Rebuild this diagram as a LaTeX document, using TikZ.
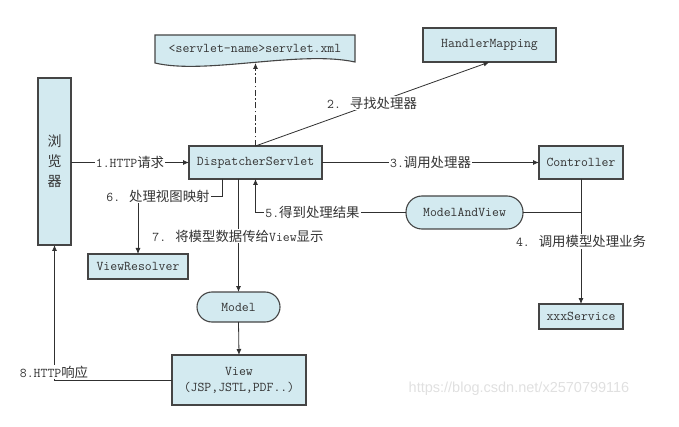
\documentclass[tikz,border=0pt]{standalone}
\usepackage{fontspec}
\newfontfamily\cjk{Noto Sans CJK SC}
\newfontfamily\wmfont{Liberation Sans}
\newcommand\zh[1]{{\cjk #1}}
\newcommand\gp{\hspace{9pt}}
\newcommand\tfont{\ttfamily\fontsize{13.4}{16}\selectfont}
\usetikzlibrary{arrows.meta}
\definecolor{boxfill}{HTML}{D3EAF0}
\definecolor{boxline}{HTML}{454545}
\definecolor{conn}{HTML}{303030}
\definecolor{txt}{HTML}{333333}
\begin{document}
\begin{tikzpicture}[x=1pt,y=-1pt,
  box/.style={draw=boxline, fill=boxfill, line width=1.1pt, inner sep=0pt, outer sep=0pt,
    font=\tfont, text=txt, align=center},
  stadium/.style={box, rounded corners=15pt},
  lbl/.style={fill=white, inner sep=1pt, font=\tfont, text=txt},
  ln/.style={draw=conn, line width=0.8pt},
  arr/.style={ln, -{Latex[length=6pt,width=5pt]}}]
\useasboundingbox (0,0) rectangle (679,427);

% boxes
\node[box, minimum width=33pt, minimum height=167pt, font=\fontsize{14}{20}\selectfont\cjk] (browser) at (54.5,161.5) {浏\\览\\器};
\fill[boxfill] (155,35) -- (355,35) -- (355,62) .. controls (300,50) and (205,75) .. (155,63) -- cycle;
\draw[boxline, line width=1.1pt] (155,35) -- (355,35) -- (355,62) .. controls (300,50) and (205,75) .. (155,63) -- cycle;
\node[font=\tfont, text=txt, inner sep=0pt] (xml) at (255,48) {<servlet-name>servlet.xml};
\coordinate (xmlb) at (255.5,63);
\node[box, minimum width=133pt, minimum height=34pt] (hm) at (489.5,45) {HandlerMapping};
\node[box, minimum width=133pt, minimum height=33pt] (ds) at (255.5,162.5) {DispatcherServlet};
\node[box, minimum width=84pt, minimum height=33pt] (ctrl) at (581,162.5) {Controller};
\node[stadium, minimum width=117pt, minimum height=33pt, rounded corners=16pt] (mav) at (464.5,212.5) {ModelAndView};
\node[box, minimum width=100pt, minimum height=25pt] (vr) at (138,266.5) {ViewResolver};
\node[stadium, minimum width=83pt, minimum height=30pt] (model) at (238.5,307) {Model};
\node[box, minimum width=134pt, minimum height=50pt] (view) at (239,380) {View\\(JSP,JSTL,PDF..)};
\node[box, minimum width=84pt, minimum height=25pt] (svc) at (581,316.5) {xxxService};

% connectors
\draw[arr] (browser.east |- ds.west) -- (ds.west)
  node[lbl, midway] (l1) {1.HTTP\zh{请求}};
\draw[arr, dash pattern=on 6pt off 2.5pt on 1.5pt off 2.5pt] (ds.north) -- (xmlb);
\draw[arr] (ds.north) -- (hm.south);
\node[lbl] (l2) at (372,103) {2.\gp\zh{寻找处理器}};
\draw[arr] (ds.east) -- (ctrl.west)
  node[lbl, midway] (l3) {3.\zh{调用处理器}};
\draw[arr] (ctrl.south) -- (svc.north)
  node[lbl, midway] (l4) {4.\gp\zh{调用模型处理业务}};
\draw[ln] (mav.east) -- (mav.east -| ctrl.south);
\draw[arr] (mav.west) -- (mav.west -| ds.south) -- (ds.south);
\node[lbl] (l5) at (312.5,212) {5.\zh{得到处理结果}};
\coordinate (c6) at (222,196);
\draw[arr] (c6 |- ds.south) -- (c6) -- (c6 -| vr.north) -- (vr.north);
\node[lbl] (l6) at (158,196) {6.\gp\zh{处理视图映射}};
\draw[arr] (model.north |- ds.south) -- (model.north);
\node[lbl] (l7) at (238,236) {7.\gp\zh{将模型数据传给}View\zh{显示}};
\draw[arr] (model.south) -- (view.north);
\draw[arr] (view.west) -- (view.west -| browser.south) -- (browser.south);
\node[lbl] (l8) at (54,372) {8.HTTP\zh{响应}};

% watermark
\node[font=\wmfont\fontsize{14.5}{16}\selectfont, text=black!12, inner sep=0pt] (wm) at (519,389) {https://blog.csdn.net/x2570799116};
\end{tikzpicture}
\end{document}
